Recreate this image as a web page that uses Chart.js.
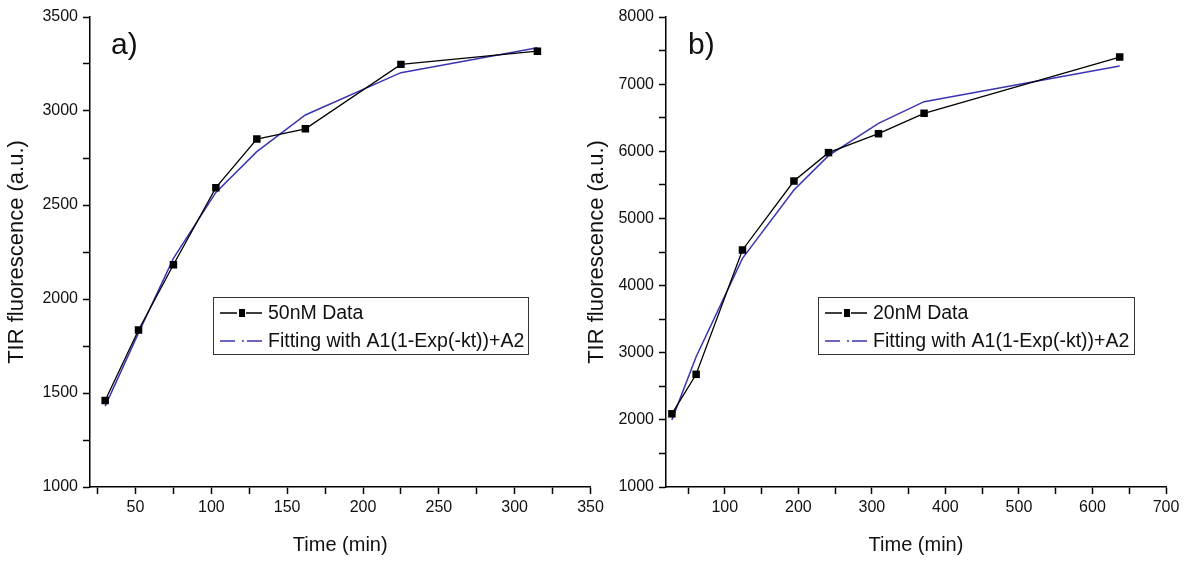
<!DOCTYPE html>
<html>
<head>
<meta charset="utf-8">
<script src="https://cdn.jsdelivr.net/npm/chart.js@4.4.1/dist/chart.umd.min.js"></script>
<style>
    body { margin: 0; background: #fff; width: 1186px; height: 561px; overflow: hidden; position: relative; }
    canvas { position: absolute; top: 0; }
    #chart-a { left: 0; }
    #chart-b { left: 580px; }
</style>
</head>
<body>
<canvas id="chart-a" width="610" height="561"></canvas>
<canvas id="chart-b" width="606" height="561"></canvas>
<script>
// --- Panel a) 50nM ---
const timeA = [30, 52, 75, 103, 130, 162, 225, 315];
const dataA = [1460, 1835, 2182, 2592, 2851, 2905, 3248, 3318];
const fitA  = [1430, 1820, 2216, 2567, 2784, 2979, 3204, 3337];
const xTicksA = [25, 50, 75, 100, 125, 150, 175, 200, 225, 250, 275, 300, 325, 350];
const xLabelsA = [50, 100, 150, 200, 250, 300, 350];
const yTicksA = [1000, 1250, 1500, 1750, 2000, 2250, 2500, 2750, 3000, 3250, 3500];
const yLabelsA = [1000, 1500, 2000, 2500, 3000, 3500];

// --- Panel b) 20nM ---
const timeB = [28, 61, 124, 194, 241, 309, 371, 637];
const dataB = [2090, 2678, 4530, 5557, 5980, 6262, 6566, 7404];
const fitB  = [2000, 2941, 4406, 5423, 5935, 6417, 6739, 7270];
const xTicksB = [50, 100, 150, 200, 250, 300, 350, 400, 450, 500, 550, 600, 650, 700];
const xLabelsB = [100, 200, 300, 400, 500, 600, 700];
const yTicksB = [1000, 1500, 2000, 2500, 3000, 3500, 4000, 4500, 5000, 5500, 6000, 6500, 7000, 7500, 8000];
const yLabelsB = [1000, 2000, 3000, 4000, 5000, 6000, 7000, 8000];

const FONT = "'Liberation Sans', Arial, sans-serif";
const BLUE = '#3a35b0';

// draws the boxed legend and the panel letter
const panelDecor = {
    id: 'panelDecor',
    afterDraw(chart, args, opts) {
        const ctx = chart.ctx;
        const b = opts.box;
        ctx.save();
        // panel letter
        ctx.fillStyle = '#111';
        ctx.font = `30px ${FONT}`;
        ctx.textBaseline = 'alphabetic';
        ctx.fillText(opts.letter, opts.letterX, opts.letterY);

        // legend box
        ctx.strokeStyle = '#333';
        ctx.lineWidth = 1;
        ctx.strokeRect(b.x + 0.5, b.y + 0.5, b.w, b.h);

        const sx = b.x + 7;
        const row1 = b.y + 16;
        const row2 = b.y + 44;

        // data sample
        ctx.strokeStyle = '#000';
        ctx.lineWidth = 1.3;
        ctx.beginPath();
        ctx.moveTo(sx, row1); ctx.lineTo(sx + 17, row1);
        ctx.moveTo(sx + 26, row1); ctx.lineTo(sx + 42, row1);
        ctx.stroke();
        ctx.fillStyle = '#000';
        ctx.fillRect(sx + 19, row1 - 4, 6, 8);

        // fit sample (dash-dot)
        ctx.strokeStyle = BLUE;
        ctx.lineWidth = 1.5;
        ctx.beginPath();
        ctx.moveTo(sx, row2); ctx.lineTo(sx + 15, row2);
        ctx.moveTo(sx + 22, row2); ctx.lineTo(sx + 24, row2);
        ctx.moveTo(sx + 27, row2); ctx.lineTo(sx + 42, row2);
        ctx.stroke();

        ctx.fillStyle = '#111';
        ctx.font = `19.5px ${FONT}`;
        ctx.textBaseline = 'middle';
        ctx.fillText(opts.dataLabel, sx + 48, row1 + 1);
        ctx.fillText('Fitting with A1(1-Exp(-kt))+A2', sx + 48, row2 + 1);
        ctx.restore();
    }
};

function makeScale(min, max, ticks, labels, width, height, title, isX) {
    return {
        type: 'linear',
        min: min,
        max: max,
        afterBuildTicks: (scale) => { scale.ticks = ticks.map(v => ({ value: v })); },
        afterFit: (scale) => {
            if (isX) scale.height = height; else scale.width = width;
        },
        ticks: {
            autoSkip: false,
            maxRotation: 0,
            padding: isX ? 4 : 5,
            color: '#111',
            font: { family: FONT, size: 16 },
            callback: (v) => labels.includes(v) ? String(v) : ''
        },
        grid: {
            drawOnChartArea: false,
            drawTicks: true,
            tickLength: 7,
            tickWidth: 1.5,
            tickColor: '#000'
        },
        border: { display: true, color: '#000', width: 1.5 },
        title: {
            display: true,
            text: title,
            color: '#111',
            font: { family: FONT, size: isX ? 20 : 22 },
            padding: isX ? { top: 0, bottom: 4 } : { top: 4, bottom: 0 }
        }
    };
}

function makeChart(id, time, data, fit, cfg) {
    const ctx = document.getElementById(id).getContext('2d');
    return new Chart(ctx, {
        type: 'line',
        data: {
            datasets: [
                {
                    label: cfg.dataLabel,
                    data: time.map((t, i) => ({ x: t, y: data[i] })),
                    borderColor: '#000',
                    backgroundColor: '#000',
                    borderWidth: 1.3,
                    pointStyle: 'rect',
                    pointRadius: 5.3,
                    pointBorderWidth: 0,
                    tension: 0
                },
                {
                    label: 'Fitting with A1(1-Exp(-kt))+A2',
                    data: time.map((t, i) => ({ x: t, y: fit[i] })),
                    borderColor: BLUE,
                    borderWidth: 1.5,
                    pointRadius: 0,
                    tension: 0
                }
            ]
        },
        options: {
            responsive: false,
            animation: false,
            layout: { padding: { top: 17, right: cfg.padRight, left: 0, bottom: 0 } },
            scales: {
                x: makeScale(cfg.xMin, cfg.xMax, cfg.xTicks, cfg.xLabels, 0, 74, 'Time (min)', true),
                y: makeScale(cfg.yMin, cfg.yMax, cfg.yTicks, cfg.yLabels, cfg.yWidth, 0, 'TIR fluorescence (a.u.)', false)
            },
            plugins: {
                legend: { display: false },
                tooltip: { enabled: false },
                panelDecor: {
                    box: cfg.box,
                    letter: cfg.letter,
                    letterX: cfg.letterX,
                    letterY: 54,
                    dataLabel: cfg.dataLabel
                }
            }
        },
        plugins: [panelDecor]
    });
}

makeChart('chart-a', timeA, dataA, fitA, {
    dataLabel: '50nM Data', letter: 'a)', letterX: 111,
    xMin: 20, xMax: 350, xTicks: xTicksA, xLabels: xLabelsA,
    yMin: 1000, yMax: 3500, yTicks: yTicksA, yLabels: yLabelsA,
    yWidth: 90, padRight: 19.5,
    box: { x: 213, y: 297, w: 315, h: 57 }
});

makeChart('chart-b', timeB, dataB, fitB, {
    dataLabel: '20nM Data', letter: 'b)', letterX: 108,
    xMin: 20, xMax: 700, xTicks: xTicksB, xLabels: xLabelsB,
    yMin: 1000, yMax: 8000, yTicks: yTicksB, yLabels: yLabelsB,
    yWidth: 86, padRight: 20,
    box: { x: 238, y: 297, w: 316, h: 57 }
});
</script>
</body>
</html>
